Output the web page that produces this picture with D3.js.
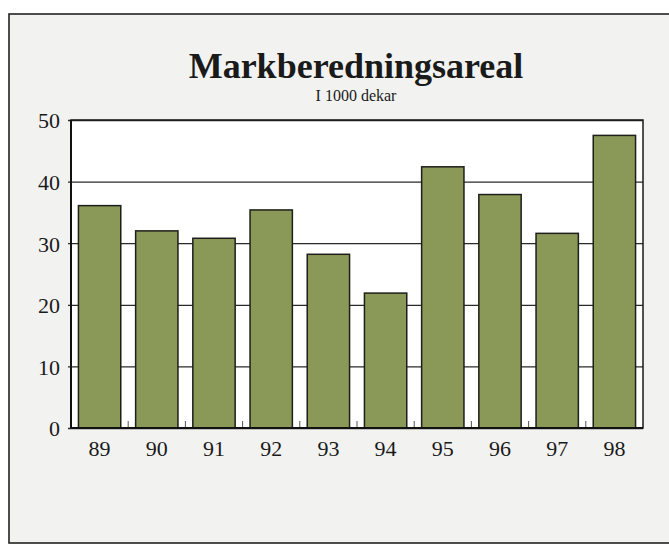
<!DOCTYPE html>
<html lang="no">
<head>
  <meta charset="UTF-8">
  <title>Markberedningsareal</title>
  <style>
      body{
          margin:0;
          background:#fff;
      }
      svg text{
          font-family:"Liberation Serif","Times New Roman",serif;
          fill:#1a1a1a;
      }
      .axis .domain{
          display:none;
      }
  </style>
</head>
<body>
    <svg width="669" height="545"></svg>
    <script src="https://d3js.org/d3.v7.min.js"></script>
    <script>

        // data (1000 dekar)
        var years = ["89", "90", "91", "92", "93", "94", "95", "96", "97", "98"];
        var areal = [36.1, 32.0, 30.8, 35.4, 28.2, 21.9, 42.4, 37.9, 31.6, 47.5];
        var yTicks = [0, 10, 20, 30, 40, 50];

        var svg = d3.select("svg"),
            margin = {top: 120, right: 26, bottom: 117, left: 71},
            width = +svg.attr("width") - margin.left - margin.right,
            height = +svg.attr("height") - margin.top - margin.bottom;

        // outer frame of the figure
        svg.append("rect")
            .attr("x", 9).attr("y", 14)
            .attr("width", 680).attr("height", 529)
            .attr("fill", "#f2f3f1")
            .attr("stroke", "#222")
            .attr("stroke-width", 1.6);

        svg.append("text")
            .attr("x", 356).attr("y", 78)
            .attr("text-anchor", "middle")
            .style("font-size", "36px")
            .style("font-weight", "bold")
            .text("Markberedningsareal");

        svg.append("text")
            .attr("x", 356).attr("y", 101)
            .attr("text-anchor", "middle")
            .style("font-size", "16px")
            .text("I 1000 dekar");

        var g = svg.append("g").attr("transform", "translate(" + margin.left + "," + margin.top + ")");

        var x = d3.scaleBand()
            .domain(years)
            .range([0, width])
            .paddingInner(0.26)
            .paddingOuter(0.13);

        var y = d3.scaleLinear()
            .domain([0, 50])
            .range([height, 0]);

        // plot background
        g.append("rect")
            .attr("width", width).attr("height", height)
            .attr("fill", "#fff");

        // horizontal grid lines + y labels
        var yAxis = g.append("g")
            .attr("class", "axis")
            .call(d3.axisLeft(y).tickValues(yTicks).tickSize(-width - 3).tickPadding(8).tickSizeOuter(0))
            .attr("transform", "translate(-3,0)");
        yAxis.selectAll("line")
            .attr("stroke", "#2a2a2a")
            .attr("stroke-width", 1.3);
        yAxis.selectAll("text")
            .attr("dy", "0.36em")
            .style("font-size", "22px");

        // small ticks between categories
        g.append("g")
            .selectAll("line")
            .data(years.slice(1))
            .enter().append("line")
            .attr("x1", function(d) { return x(d) - x.step() * x.paddingInner() / 2; })
            .attr("x2", function(d) { return x(d) - x.step() * x.paddingInner() / 2; })
            .attr("y1", height)
            .attr("y2", height - 7)
            .attr("stroke", "#555")
            .attr("stroke-width", 1);

        g.append("g")
            .selectAll("rect")
            .data(areal)
            .enter().append("rect")
            .attr("x", function(d, i) { return x(years[i]); })
            .attr("y", function(d) { return y(d); })
            .attr("width", x.bandwidth())
            .attr("height", function(d) { return height - y(d); })
            .attr("fill", "#8a9858")
            .attr("stroke", "#1e1e1a")
            .attr("stroke-width", 1.5);

        // plot frame
        g.append("rect")
            .attr("width", width).attr("height", height)
            .attr("fill", "none")
            .attr("stroke", "#1a1a1a")
            .attr("stroke-width", 1.5);
        g.append("line")
            .attr("x1", 0).attr("x2", 0)
            .attr("y1", 0).attr("y2", height)
            .attr("stroke", "#111")
            .attr("stroke-width", 2);
        g.append("line")
            .attr("x1", 0).attr("x2", width)
            .attr("y1", height).attr("y2", height)
            .attr("stroke", "#111")
            .attr("stroke-width", 2);

        var xAxis = g.append("g")
            .attr("class", "axis")
            .attr("transform", "translate(0," + height + ")")
            .call(d3.axisBottom(x).tickSize(0).tickPadding(12));
        xAxis.selectAll("text")
            .style("font-size", "22px");

    </script>
</body>
</html>
